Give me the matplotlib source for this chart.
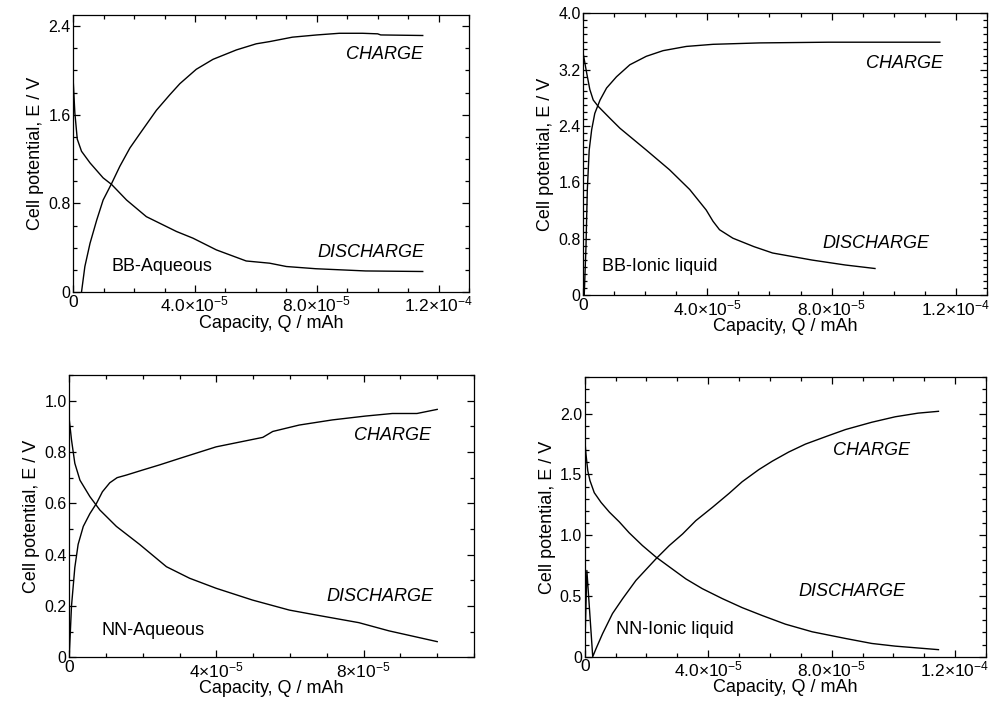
import matplotlib
matplotlib.use("Agg")
import matplotlib.pyplot as plt
from matplotlib.ticker import MultipleLocator, FixedLocator

plt.rcParams['font.family'] = ['Liberation Sans', 'DejaVu Sans']
plt.rcParams['mathtext.fontset'] = 'custom'
plt.rcParams['mathtext.rm'] = 'Liberation Sans'
plt.rcParams['mathtext.it'] = 'Liberation Sans:italic'

# ---------------- Data ----------------
# Panel 1: BB-Aqueous
bb_aq_charge_q = [0.27e-5, 0.38e-5, 0.55e-5, 0.77e-5, 0.98e-5, 1.26e-5, 1.53e-5, 1.86e-5, 2.19e-5,
                  2.73e-5, 3.17e-5, 3.5e-5, 4.04e-5, 4.59e-5, 5.36e-5, 6.01e-5, 6.45e-5, 7.2e-5,
                  8.0e-5, 8.74e-5, 9.5e-5, 1.0e-4, 1.01e-4, 1.148e-4]
bb_aq_charge_e = [0.0, 0.23, 0.44, 0.65, 0.83, 0.98, 1.135, 1.30, 1.43,
                  1.64, 1.78, 1.88, 2.01, 2.10, 2.185, 2.24, 2.26, 2.30,
                  2.32, 2.335, 2.335, 2.33, 2.32, 2.315]
bb_aq_dis_q = [0.0, 0.05e-5, 0.13e-5, 0.27e-5, 0.55e-5, 0.98e-5, 1.26e-5, 1.75e-5, 2.4e-5,
               3.39e-5, 3.93e-5, 4.7e-5, 5.68e-5, 6.45e-5, 7.0e-5, 7.97e-5, 9.6e-5, 1.148e-4]
bb_aq_dis_e = [1.89, 1.62, 1.38, 1.27, 1.165, 1.03, 0.97, 0.83, 0.68,
               0.546, 0.486, 0.38, 0.28, 0.26, 0.23, 0.21, 0.19, 0.185]

# Panel 2: BB-Ionic liquid
bb_il_charge_q = [0.03e-5, 0.086e-5, 0.13e-5, 0.19e-5, 0.27e-5, 0.37e-5, 0.54e-5, 0.75e-5, 1.07e-5,
                  1.5e-5, 2.03e-5, 2.57e-5, 3.32e-5, 4.18e-5, 5.68e-5, 7.9e-5, 1.149e-4]
bb_il_charge_e = [0.0, 0.69, 1.50, 2.06, 2.35, 2.58, 2.77, 2.94, 3.10,
                  3.27, 3.39, 3.47, 3.53, 3.56, 3.58, 3.59, 3.59]
bb_il_dis_q = [0.0, 0.11e-5, 0.21e-5, 0.32e-5, 0.48e-5, 0.86e-5, 1.18e-5, 2.03e-5, 2.78e-5, 3.43e-5,
               3.96e-5, 4.18e-5, 4.39e-5, 4.82e-5, 5.5e-5, 6.1e-5, 7.37e-5, 8.44e-5, 9.4e-5]
bb_il_dis_e = [3.42, 3.15, 2.92, 2.77, 2.68, 2.51, 2.37, 2.06, 1.78, 1.50,
               1.21, 1.05, 0.93, 0.81, 0.69, 0.60, 0.50, 0.43, 0.38]

# Panel 3: NN-Aqueous
nn_aq_charge_q = [0.0, 0.06e-5, 0.15e-5, 0.24e-5, 0.38e-5, 0.56e-5, 0.74e-5, 0.9e-5, 1.1e-5, 1.3e-5,
                  1.55e-5, 2.0e-5, 2.46e-5, 3.0e-5, 3.99e-5, 5.26e-5, 5.53e-5, 6.25e-5, 7.15e-5,
                  8.05e-5, 8.78e-5, 9.45e-5, 1.0e-4]
nn_aq_charge_e = [0.01, 0.20, 0.35, 0.44, 0.51, 0.56, 0.60, 0.645, 0.68, 0.70,
                  0.71, 0.73, 0.75, 0.775, 0.82, 0.857, 0.88, 0.905, 0.925,
                  0.94, 0.95, 0.95, 0.966]
nn_aq_dis_q = [0.0, 0.06e-5, 0.15e-5, 0.29e-5, 0.56e-5, 0.83e-5, 1.28e-5, 1.91e-5, 2.64e-5, 3.27e-5,
               3.99e-5, 4.98e-5, 5.98e-5, 6.7e-5, 7.87e-5, 8.69e-5, 1.0e-4]
nn_aq_dis_e = [0.925, 0.847, 0.756, 0.69, 0.626, 0.574, 0.51, 0.44, 0.353, 0.308,
               0.269, 0.223, 0.184, 0.165, 0.135, 0.103, 0.061]

# Panel 4: NN-Ionic liquid
nn_il_charge_q = [0.0, 0.07e-5, 0.26e-5, 0.37e-5, 0.58e-5, 0.9e-5, 1.23e-5, 1.66e-5, 2.31e-5, 2.74e-5,
                  3.17e-5, 3.6e-5, 4.14e-5, 4.68e-5, 5.1e-5, 5.64e-5, 6.08e-5, 6.61e-5, 7.15e-5,
                  7.9e-5, 8.45e-5, 9.3e-5, 1.006e-4, 1.08e-4, 1.146e-4]
nn_il_charge_e = [0.03, 0.71, 0.0, 0.068, 0.19, 0.355, 0.478, 0.628, 0.806, 0.915,
                  1.01, 1.12, 1.23, 1.345, 1.44, 1.54, 1.61, 1.685, 1.75,
                  1.82, 1.87, 1.93, 1.975, 2.005, 2.02]
nn_il_dis_q = [0.0, 0.04e-5, 0.1e-5, 0.17e-5, 0.31e-5, 0.53e-5, 0.8e-5, 1.12e-5, 1.44e-5, 1.87e-5,
               2.31e-5, 2.74e-5, 3.28e-5, 3.81e-5, 4.46e-5, 5.1e-5, 5.75e-5, 6.5e-5, 7.37e-5,
               8.45e-5, 9.3e-5, 1.006e-4, 1.146e-4]
nn_il_dis_e = [1.80, 1.67, 1.53, 1.45, 1.35, 1.27, 1.19, 1.11, 1.02, 0.915,
               0.82, 0.74, 0.64, 0.56, 0.478, 0.404, 0.339, 0.268, 0.205,
               0.15, 0.109, 0.087, 0.058]

# Tick values and labels
x_ticks_a = [0, 4e-5, 8e-5, 1.2e-4]
x_labels_a = ['0', r'$\mathregular{4.0{\times}10^{-5}}$', r'$\mathregular{8.0{\times}10^{-5}}$',
              r'$\mathregular{1.2{\times}10^{-4}}$']
x_ticks_b = [0, 4e-5, 8e-5]
x_labels_b = ['0', r'$\mathregular{4{\times}10^{-5}}$', r'$\mathregular{8{\times}10^{-5}}$']

y_ticks_1 = [0, 0.8, 1.6, 2.4]
y_labels_1 = ['0', '0.8', '1.6', '2.4']
y_ticks_2 = [0, 0.8, 1.6, 2.4, 3.2, 4.0]
y_labels_2 = ['0', '0.8', '1.6', '2.4', '3.2', '4.0']
y_ticks_3 = [0, 0.2, 0.4, 0.6, 0.8, 1.0]
y_labels_3 = ['0', '0.2', '0.4', '0.6', '0.8', '1.0']
y_ticks_4 = [0, 0.5, 1.0, 1.5, 2.0]
y_labels_4 = ['0', '0.5', '1.0', '1.5', '2.0']

panel_names = ['BB-Aqueous', 'BB-Ionic liquid', 'NN-Aqueous', 'NN-Ionic liquid']

# ---------------- Figure ----------------
fig = plt.figure(figsize=(9.92, 7.06), dpi=100)

panels = [
    dict(rect=[73.3/992, (706-292)/706, (469-73.3)/992, (292-15)/706],
         cq=bb_aq_charge_q, ce=bb_aq_charge_e, dq=bb_aq_dis_q, de=bb_aq_dis_e,
         xlim=(0, 1.3e-4), ylim=(0, 2.5), xt=x_ticks_a, xl=x_labels_a, yt=y_ticks_1, yl=y_labels_1,
         xminor=1e-5, yminor=0.2, name=panel_names[0],
         charge_pos=(1.148e-4, 2.14), dis_pos=(1.155e-4, 0.36), name_pos=(1.26e-5, 0.23)),
    dict(rect=[583.3/992, (706-295.3)/706, (986.7-583.3)/992, (295.3-13.3)/706],
         cq=bb_il_charge_q, ce=bb_il_charge_e, dq=bb_il_dis_q, de=bb_il_dis_e,
         xlim=(0, 1.3e-4), ylim=(0, 4.0), xt=x_ticks_a, xl=x_labels_a, yt=y_ticks_2, yl=y_labels_2,
         xminor=1e-5, yminor=0.1, name=panel_names[1],
         charge_pos=(1.16e-4, 3.29), dis_pos=(1.117e-4, 0.74), name_pos=(0.6e-5, 0.41)),
    dict(rect=[69.3/992, (706-657.3)/706, (474-69.3)/992, (657.3-375)/706],
         cq=nn_aq_charge_q, ce=nn_aq_charge_e, dq=nn_aq_dis_q, de=nn_aq_dis_e,
         xlim=(0, 1.1e-4), ylim=(0, 1.1), xt=x_ticks_b, xl=x_labels_b, yt=y_ticks_3, yl=y_labels_3,
         xminor=1e-5, yminor=0.1, name=panel_names[2],
         charge_pos=(9.84e-5, 0.864), dis_pos=(9.9e-5, 0.236), name_pos=(0.88e-5, 0.106)),
    dict(rect=[584.7/992, (706-656.7)/706, (986-584.7)/992, (656.7-377.3)/706],
         cq=nn_il_charge_q, ce=nn_il_charge_e, dq=nn_il_dis_q, de=nn_il_dis_e,
         xlim=(0, 1.3e-4), ylim=(0, 2.3), xt=x_ticks_a, xl=x_labels_a, yt=y_ticks_4, yl=y_labels_4,
         xminor=1e-5, yminor=0.1, name=panel_names[3],
         charge_pos=(1.055e-4, 1.70), dis_pos=(1.04e-4, 0.54), name_pos=(1.0e-5, 0.224)),
]

for p in panels:
    ax = fig.add_axes(p['rect'])
    ax.plot(p['cq'], p['ce'], color='black', lw=1.0, solid_joinstyle='round')
    ax.plot(p['dq'], p['de'], color='black', lw=1.0, solid_joinstyle='round')
    ax.set_xlim(*p['xlim'])
    ax.set_ylim(*p['ylim'])
    ax.xaxis.set_major_locator(FixedLocator(p['xt']))
    ax.set_xticklabels(p['xl'], fontsize=12.5)
    ax.yaxis.set_major_locator(FixedLocator(p['yt']))
    ax.set_yticklabels(p['yl'], fontsize=11.5)
    ax.xaxis.set_minor_locator(MultipleLocator(p['xminor']))
    ax.yaxis.set_minor_locator(MultipleLocator(p['yminor']))
    ax.tick_params(which='both', direction='in', top=True, right=True, width=0.9)
    ax.tick_params(which='major', length=5, pad=2)
    ax.tick_params(which='minor', length=3)
    for s in ax.spines.values():
        s.set_linewidth(0.9)
    ax.set_xlabel('Capacity, Q / mAh', fontsize=13, labelpad=0)
    ax.set_ylabel('Cell potential, E / V', fontsize=13, labelpad=3)
    ax.text(p['charge_pos'][0], p['charge_pos'][1], 'CHARGE', style='italic', fontsize=13,
            ha='right', va='center')
    ax.text(p['dis_pos'][0], p['dis_pos'][1], 'DISCHARGE', style='italic', fontsize=13,
            ha='right', va='center')
    ax.text(p['name_pos'][0], p['name_pos'][1], p['name'], fontsize=13, ha='left', va='center')

fig.savefig('out.png', dpi=100)
